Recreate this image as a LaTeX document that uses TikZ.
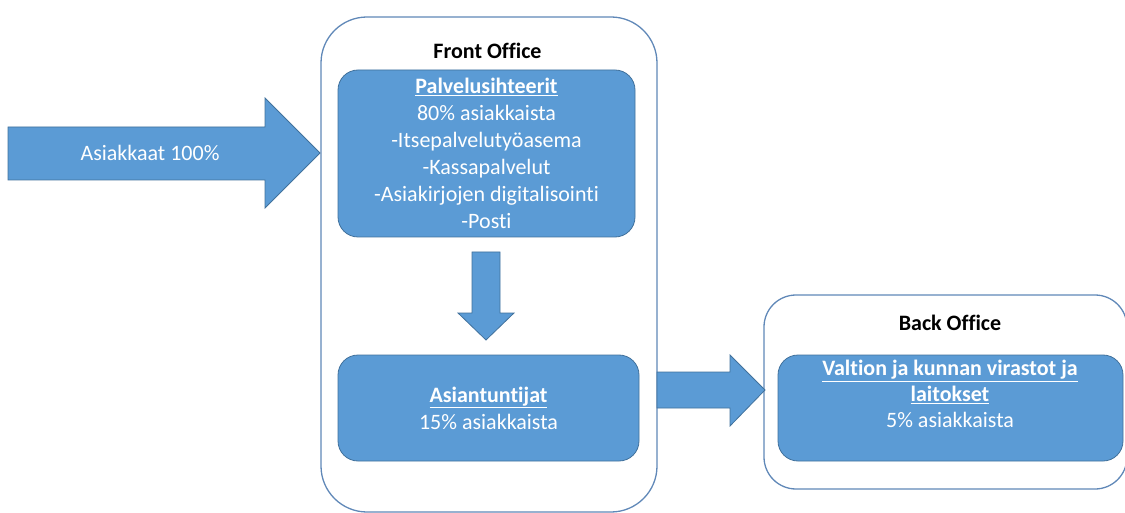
\documentclass[tikz,border=0pt]{standalone}
\usepackage{fontspec}
\setmainfont[Ligatures=NoCommon]{Carlito}
\definecolor{boxblue}{RGB}{91,155,213}
\definecolor{boxedge}{RGB}{65,113,156}
\definecolor{outeredge}{RGB}{96,136,184}
\newcommand{\ul}[1]{\underline{#1}}
\begin{document}
\begin{tikzpicture}[x=1pt,y=-1pt,
  bluebox/.style={draw=boxedge, line width=0.8pt, fill=boxblue, rounded corners=20pt, inner sep=0pt},
  outerbox/.style={draw=outeredge, line width=1.3pt, fill=white},
  blockarrow/.style={draw=boxedge, line width=0.8pt, fill=boxblue},
  wtext/.style={text=white, align=center, font=\fontsize{22}{27}\selectfont},
  ttext/.style={text=black, font=\fontsize{22}{27}\selectfont\bfseries}
]
\useasboundingbox (0,0) rectangle (1125,513);
\clip (0,0) rectangle (1125,513);

% outer containers
\draw[outerbox, rounded corners=46pt] (321,17) rectangle (657,512);
\coordinate (frontbox) at (489,265);
\draw[outerbox, rounded corners=32pt] (764,295) rectangle (1127,489);
\coordinate (backbox) at (945,392);

% titles
\node[ttext] (fronttitle) at (487.5,51) {Front Office};
\node[ttext] (backtitle) at (950,323) {Back Office};

% inner boxes
\node[bluebox, minimum width=297pt, minimum height=167pt, wtext] (palvelu) at (486.5,153.5)
  {\ul{\textbf{Palvelusihteerit}}\\80\% asiakkaista\\-Itsepalvelutyöasema\\-Kassapalvelut\\-Asiakirjojen digitalisointi\\-Posti};
\node[bluebox, minimum width=301pt, minimum height=106pt, wtext] (asiantuntijat) at (488.5,408)
  {\ul{\textbf{Asiantuntijat}}\\15\% asiakkaista};
\node[bluebox, minimum width=345pt, minimum height=106pt] (valtio) at (950.5,408) {};
\node[wtext, font=\fontsize{22}{26}\selectfont] (valtiotext) at (950,394)
  {\ul{\textbf{Valtion ja kunnan virastot ja}}\\\ul{\textbf{laitokset}}\\5\% asiakkaista};

% block arrows
\draw[blockarrow] (8,127) -- (265,127) -- (265,98) -- (320,153) -- (265,208) -- (265,180) -- (8,180) -- cycle;
\node[wtext] (asiakkaat) at (150,153) {Asiakkaat 100\%};

\draw[blockarrow] (472,252) -- (500,252) -- (500,313) -- (514,313) -- (486,340) -- (458,313) -- (472,313) -- cycle;

\draw[blockarrow] (657,372) -- (730,372) -- (730,355) -- (765,390) -- (730,426) -- (730,408) -- (657,408) -- cycle;
\end{tikzpicture}
\end{document}
